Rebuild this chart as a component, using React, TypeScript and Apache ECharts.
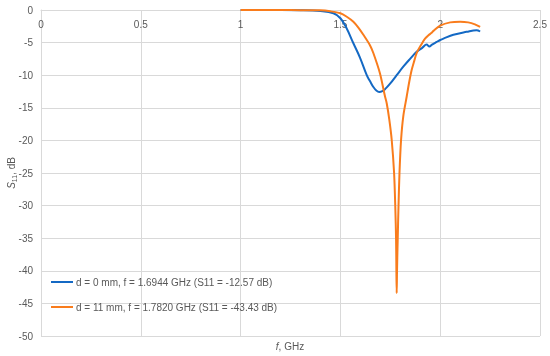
import React, { useEffect, useRef } from 'react';
import * as echarts from 'echarts';

const seriesNames = [
  'd = 0 mm, f = 1.6944 GHz (S11 = -12.57 dB)',
  'd = 11 mm, f = 1.7820 GHz (S11 = -43.43 dB)',
];

const freqD0 = [1.0, 1.2, 1.3, 1.4, 1.465, 1.5, 1.531, 1.565, 1.598, 1.632, 1.648, 1.665, 1.68, 1.6944, 1.71, 1.725, 1.749, 1.782, 1.815, 1.849, 1.882, 1.91, 1.932, 1.946, 1.957, 1.982, 2.0, 2.016, 2.066, 2.132, 2.182, 2.2];
const s11D0 = [0, 0, -0.02, -0.15, -0.5, -1.27, -2.8, -5.1, -7.3, -10.0, -10.9, -11.8, -12.35, -12.57, -12.45, -12.1, -11.3, -10.0, -8.7, -7.5, -6.4, -5.8, -5.3, -5.6, -5.35, -4.9, -4.6, -4.4, -3.8, -3.35, -3.1, -3.3];

const freqD11 = [1.0, 1.2, 1.3, 1.4, 1.45, 1.5, 1.53, 1.565, 1.59, 1.615, 1.648, 1.665, 1.698, 1.723, 1.732, 1.745, 1.757, 1.769, 1.775, 1.779, 1.7805, 1.782, 1.7835, 1.785, 1.787, 1.791, 1.796, 1.804, 1.815, 1.832, 1.845, 1.857, 1.87, 1.882, 1.907, 1.924, 1.94, 1.957, 1.966, 2.0, 2.05, 2.1, 2.14, 2.174, 2.2];
const s11D11 = [0, 0, -0.02, -0.05, -0.2, -0.5, -1.0, -1.8, -2.7, -3.8, -5.4, -6.6, -9.7, -13.2, -14.3, -16.8, -19.9, -25, -30.2, -35.3, -40.0, -43.43, -40.4, -38.0, -35.3, -30.2, -25, -19.9, -16.3, -13.3, -11.0, -9.2, -7.8, -6.6, -5.2, -4.4, -3.9, -3.5, -3.2, -2.4, -1.9, -1.8, -1.9, -2.2, -2.6];

const xMin = 0, xMax = 2.5, xStep = 0.5;
const yMin = -50, yMax = 0, yStep = 5;

const FONT = 'Liberation Sans';
const GRAY = '#595959';
const GRID = '#d9d9d9';

export default function App() {
  const ref = useRef<HTMLDivElement>(null);
  useEffect(() => {
    if (!ref.current) return;
    const chart = echarts.init(ref.current, undefined, { renderer: 'svg' });
    const toPairs = (xs: number[], ys: number[]) => xs.map((x, i) => [x, ys[i]]);
    chart.setOption({
      animation: false,
      textStyle: { fontFamily: FONT },
      grid: { left: 41, right: 10, top: 10, bottom: 20, containLabel: false, outerBoundsMode: 'none' },
      xAxis: {
        type: 'value',
        position: 'top',
        min: xMin,
        max: xMax,
        interval: xStep,
        axisLine: { show: true, onZero: false, lineStyle: { color: GRID, width: 1 } },
        axisTick: { show: false },
        axisLabel: { inside: true, margin: 9, color: GRAY, fontSize: 10, fontFamily: FONT },
        splitLine: { show: true, lineStyle: { color: GRID, width: 1 } },
      },
      yAxis: {
        type: 'value',
        min: yMin,
        max: yMax,
        interval: yStep,
        axisLine: { show: true, lineStyle: { color: GRID, width: 1 } },
        axisTick: { show: false },
        axisLabel: { margin: 8, color: GRAY, fontSize: 10, fontFamily: FONT },
        splitLine: { show: true, lineStyle: { color: GRID, width: 1 } },
      },
      legend: {
        orient: 'vertical',
        left: 46,
        top: 270,
        itemGap: 11,
        itemWidth: 22,
        itemHeight: 2,
        icon: 'rect',
        textStyle: { color: GRAY, fontSize: 10, fontFamily: FONT, lineHeight: 14, padding: [0, 0, 0, -2] },
        data: seriesNames,
      },
      graphic: [
        {
          type: 'text',
          x: 290,
          y: 346,
          style: {
            text: '{i|f}{n|, GHz}',
            align: 'center',
            verticalAlign: 'middle',
            rich: {
              i: { fontStyle: 'italic', fontSize: 10, fill: GRAY, fontFamily: FONT },
              n: { fontSize: 10, fill: GRAY, fontFamily: FONT },
            },
          },
        },
        {
          type: 'text',
          x: 11,
          y: 173,
          rotation: Math.PI / 2,
          style: {
            text: '{i|S}{s|11}{n|, dB}',
            align: 'center',
            verticalAlign: 'middle',
            rich: {
              i: { fontStyle: 'italic', fontSize: 10, fill: GRAY, fontFamily: FONT, lineHeight: 14, verticalAlign: 'middle' },
              s: { fontSize: 7, fill: GRAY, fontFamily: FONT, lineHeight: 14, verticalAlign: 'bottom' },
              n: { fontSize: 10, fill: GRAY, fontFamily: FONT, lineHeight: 14, verticalAlign: 'middle' },
            },
          },
        },
      ],
      series: [
        {
          name: seriesNames[0],
          type: 'line',
          data: toPairs(freqD0, s11D0),
          showSymbol: false,
          symbol: 'none',
          smooth: 0.4,
          lineStyle: { color: '#1469c4', width: 2 },
          itemStyle: { color: '#1469c4' },
          z: 2,
        },
        {
          name: seriesNames[1],
          type: 'line',
          data: toPairs(freqD11, s11D11),
          showSymbol: false,
          symbol: 'none',
          smooth: 0.3,
          lineStyle: { color: '#f97c1c', width: 2 },
          itemStyle: { color: '#f97c1c' },
          z: 3,
        },
      ],
    });
    return () => chart.dispose();
  }, []);
  return <div ref={ref} style={{ position: 'fixed', left: 0, top: 0, width: 550, height: 356 }} />;
}
